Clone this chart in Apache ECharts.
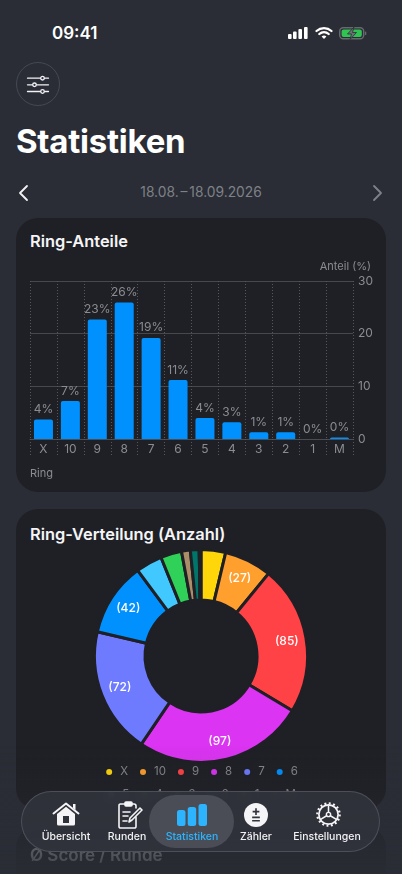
<!DOCTYPE html>
<html>
<head>
<meta charset="utf-8">
<title>Statistiken</title>
<script src="https://cdn.jsdelivr.net/npm/echarts@6/dist/echarts.min.js"></script>
<style>
html,body{margin:0;padding:0;background:#2a2d35;}
body{width:402px;height:874px;overflow:hidden;position:relative;font-family:Inter,"Noto Sans",sans-serif;color:#fff;}
.abs{position:absolute;}
.card{position:absolute;left:16px;width:370px;background:#1f2025;border-radius:22px;}
.cardtitle{position:absolute;left:14px;font-size:16.4px;font-weight:600;color:#f5f5f7;line-height:22px;}
#fade{position:absolute;left:0;top:745px;width:402px;height:129px;background:linear-gradient(to bottom,rgba(42,45,53,0),rgba(42,45,53,.12) 35%,rgba(42,45,53,.78) 81%,rgba(42,45,53,.9));}
#tabbar{position:absolute;left:21px;top:791px;width:359px;height:61px;border-radius:31px;background:rgba(48,51,59,.93);border:1px solid rgba(120,125,135,.4);box-sizing:border-box;backdrop-filter:blur(5px);-webkit-backdrop-filter:blur(5px);}
#pill{position:absolute;left:127px;top:3px;width:85px;height:53px;border-radius:27px;background:#4a4d55;}
.tab{position:absolute;top:38px;font-size:10.5px;font-weight:500;line-height:14px;color:#f2f2f5;transform:translateX(-50%);white-space:nowrap;}
.tabicon{position:absolute;}
</style>
</head>
<body>
<div class="abs" style="left:52px;top:22px;font-size:17px;font-weight:600;line-height:22px;">09:41</div>
<svg class="abs" style="left:286px;top:24px" width="82" height="18" viewBox="0 0 82 18">
  <rect x="2" y="10" width="3.6" height="5" rx="1" fill="#fff"/><rect x="7" y="7.5" width="3.6" height="7.5" rx="1" fill="#fff"/><rect x="12.4" y="5" width="3.6" height="10" rx="1" fill="#fff"/><rect x="18" y="3" width="3.6" height="12" rx="1" fill="#fff"/>
  <path d="M30.5 7a11.5 11.5 0 0 1 15 0M33.3 10a7.2 7.2 0 0 1 9.4 0" fill="none" stroke="#fff" stroke-width="2.3" stroke-linecap="round"/><path d="M35.6 12.6a3.4 3.4 0 0 1 4.8 0L38 15z" fill="#fff"/>
  <rect x="53.7" y="3.7" width="24" height="11" rx="3.5" fill="none" stroke="#66696d" stroke-width="1.4"/><rect x="55.6" y="5.5" width="20.2" height="7.4" rx="2" fill="#30c552"/><rect x="79" y="7.5" width="1.3" height="3.5" rx=".6" fill="#66696d"/>
  <path d="M68 3l-6.5 7h4L64 15.500l6.500-7h-4z" fill="#6d7074" stroke="#2a2d35" stroke-width=".8"/>
</svg>

<div class="abs" style="left:16px;top:62px;width:44px;height:44px;border-radius:50%;border:1px solid #444954;box-sizing:border-box;"></div>
<svg class="abs" style="left:26px;top:73.500px" width="24" height="22" viewBox="0 0 24 22" fill="none" stroke="#f2f2f5" stroke-width="1.3" stroke-linecap="round">
  <path d="M1.500 4.200h13M18.500 4.200h4M1.500 10.800h5M10.500 10.800h12M1.500 17.500h13M18.500 17.500h4"/><circle cx="16.500" cy="4.200" r="1.800"/><circle cx="8.500" cy="10.800" r="1.800"/><circle cx="16.500" cy="17.500" r="1.800"/>
</svg>
<div class="abs" style="left:16px;top:120px;font-size:33px;font-weight:700;line-height:42px;letter-spacing:-.25px;">Statistiken</div>

<svg class="abs" style="left:16px;top:183px" width="16" height="20" viewBox="0 0 16 20" fill="none" stroke="#f2f2f5" stroke-width="1.8" stroke-linecap="round" stroke-linejoin="round"><path d="M11 3l-7 7 7 7"/></svg>
<div class="abs" style="left:0;top:183px;width:402px;text-align:center;font-size:13.8px;line-height:19px;word-spacing:-2px;color:#7e8188;">18.08. – 18.09.2026</div>
<svg class="abs" style="left:370px;top:183px" width="16" height="20" viewBox="0 0 16 20" fill="none" stroke="#7e8188" stroke-width="1.8" stroke-linecap="round" stroke-linejoin="round"><path d="M4 3l7 7-7 7"/></svg>

<div class="card" style="top:218px;height:274px;">
  <div class="cardtitle" style="top:12px;">Ring-Anteile</div>
  <div id="barChart" class="abs" style="left:0;top:0;width:370px;height:274px;"></div>
</div>
<div class="card" style="top:509px;height:301px;">
  <div class="cardtitle" style="top:14px;">Ring-Verteilung (Anzahl)</div>
  <div id="pieChart" class="abs" style="left:0;top:0;width:370px;height:301px;"></div>
</div>
<div class="card" style="top:826px;height:120px;">
  <div class="cardtitle" style="top:18px;font-size:17px;">Ø Score / Runde</div>
</div>
<div id="fade"></div>

<div id="tabbar">
  <div id="pill"></div>
  <svg class="tabicon" style="left:30px;top:10px" width="28" height="24" viewBox="0 0 28 24"><path d="M1.500 11.500L14 1.500l12.500 10" fill="none" stroke="#f5f5f7" stroke-width="2" stroke-linecap="round" stroke-linejoin="round"/><path d="M21 2h2.500v6L21 6z" fill="#f5f5f7"/><path d="M5 12L14 4.800l9 7.200v10a1.500 1.500 0 0 1-1.500 1.500h-15A1.500 1.500 0 0 1 5 22z" fill="#f5f5f7"/><rect x="11" y="14" width="6" height="7" fill="#30333b"/></svg>
  <svg class="tabicon" style="left:95px;top:8px" width="26" height="30" viewBox="0 0 26 30" fill="none" stroke="#f5f5f7" stroke-width="1.6" stroke-linecap="round" stroke-linejoin="round"><path d="M8 4H3.500A1.500 1.500 0 0 0 2 5.500v21A1.500 1.500 0 0 0 3.500 28h14a1.500 1.500 0 0 0 1.500-1.500V17M15 4h2a2 2 0 0 1 2 2v2"/><rect x="8" y="2" width="7" height="4" rx="1" fill="#f5f5f7"/><path d="M6 12h7M6 16h5M6 21h4M12 22l1-4 10-10 2 2-10 10z"/></svg>
  <svg class="tabicon" style="left:155px;top:12px" width="30" height="22" viewBox="0 0 30 22"><rect x="0" y="6" width="8.500" height="16" rx="2.500" fill="#2db4ff"/><rect x="10.700" y="3" width="8.500" height="19" rx="2.500" fill="#2db4ff"/><rect x="21.500" y="0" width="8.500" height="22" rx="2.500" fill="#2db4ff"/></svg>
  <svg class="tabicon" style="left:222px;top:11px" width="24" height="24" viewBox="0 0 25 25"><circle cx="12.500" cy="12.500" r="12.500" fill="#f5f5f7"/><path d="M12.500 5.500v7M9 9h7M8.500 15h8M8.500 18.500h8" stroke="#30343c" stroke-width="1.700" fill="none"/></svg>
  <svg class="tabicon" style="left:294px;top:10px" width="25" height="25" viewBox="0 0 26 26" fill="none" stroke="#f5f5f7"><circle cx="13" cy="13" r="10" stroke-width="1.800"/><circle cx="13" cy="13" r="11.600" stroke-width="2.400" stroke-dasharray="2 2.550"/><circle cx="13" cy="13" r="2.200" stroke-width="1.500"/><path d="M13 3.500v7.200M4.800 18l6.300-3.700M21.200 18l-6.300-3.700" stroke-width="1.600"/></svg>
  <div class="tab" style="left:44px;">Übersicht</div>
  <div class="tab" style="left:105px;">Runden</div>
  <div class="tab" style="left:170px;color:#2db4ff;">Statistiken</div>
  <div class="tab" style="left:234px;">Zähler</div>
  <div class="tab" style="left:305px;">Einstellungen</div>
</div>

<script>
var rings = ['X','10','9','8','7','6','5','4','3','2','1','M'];
var shares = [3.7,7.2,22.7,25.9,19.2,11.2,4.0,3.2,1.3,1.3,0,0.3];
var counts = [14,27,85,97,72,42,15,12,5,5,0,1];
var ringColors = ['#FFD60A','#FF9F2E','#FF4245','#DB34F2','#6E7BFF','#0091FF','#40C8FF','#30D158','#AC8E68','#00756A','#8E8E93','#636366'];
var shareTicks = [0,10,20,30];

var FONT = 'Inter';
var GREY = '#8b8c91';

var barChart = echarts.init(document.getElementById('barChart'));
barChart.setOption({
	animation: false,
	grid: {left:14, right:33, top:63, bottom:53},
	xAxis: {
		type: 'category',
		data: rings,
		name: 'Ring',
		nameLocation: 'start',
		nameGap: 0,
		nameTextStyle: {color:GREY, fontFamily:FONT, fontSize:11, align:'left', verticalAlign:'top', padding:[29,0,0,0]},
		axisLine: {lineStyle:{color:'#4a4c52', width:1}},
		axisTick: {show:true, length:16, lineStyle:{color:'#55575d', type:[1,2]}},
		axisLabel: {color:GREY, fontFamily:FONT, fontSize:12, margin:4},
		splitLine: {show:true, lineStyle:{color:'#55575d', type:[1,2]}}
	},
	yAxis: {
		type: 'value',
		position: 'right',
		min: shareTicks[0],
		max: shareTicks[3],
		interval: 10,
		name: 'Anteil (%)',
		nameLocation: 'end',
		nameGap: 9,
		nameTextStyle: {color:GREY, fontFamily:FONT, fontSize:11, align:'right', padding:[0,-18,0,0]},
		axisLine: {show:false},
		axisTick: {show:false},
		axisLabel: {color:GREY, fontFamily:FONT, fontSize:12, margin:5},
		splitLine: {lineStyle:{color:'#46484e', width:1}}
	},
	series: [{
		type: 'bar',
		data: shares,
		barWidth: 19,
		itemStyle: {color:'#0091FF', borderRadius:[2,2,0,0]},
		label: {
			show: true,
			position: 'top',
			distance: 4,
			color: GREY,
			fontFamily: FONT,
			fontSize: 12,
			formatter: function(p){return Math.round(p.value)+'%';}
		}
	}]
});

var pieCx = 185, pieCy = 147, pieR0 = 56, pieR = 106.5;
var labelR = 84;
var pieData = [];
for (var i=0;i<rings.length;++i) {
	pieData.push({name:rings[i], value:counts[i], itemStyle:{color:ringColors[i]}});
}

// Legende in zwei festen Zeilen
function legendRow(names, top) {
	return {
		show: true,
		top: top,
		left: 'center',
		icon: 'circle',
		itemWidth: 8,
		itemHeight: 8,
		itemGap: 10,
		data: names,
		textStyle: {color:'#85868b', fontFamily:FONT, fontSize:11.5, padding:[0,5,0,2]}
	};
}

var pieChart = echarts.init(document.getElementById('pieChart'));
pieChart.setOption({
	animation: false,
	legend: [legendRow(rings.slice(0,6),252), legendRow(rings.slice(6),275)],
	series: [{
		type: 'pie',
		center: [pieCx, pieCy],
		radius: [pieR0, pieR],
		startAngle: 90,
		avoidLabelOverlap: false,
		itemStyle: {borderColor:'#1f2025', borderWidth:3},
		label: {
			show: true,
			position: 'inside',
			color: '#fff',
			fontFamily: FONT,
			fontSize: 12,
			fontWeight: 500,
			formatter: function(p){return p.value>=20 ? '('+p.value+')' : '';}
		},
		labelLine: {show:false},
		// Beschriftung etwas weiter aussen als Ringmitte
		labelLayout: function(p){
			var lx = p.labelRect.x+p.labelRect.width/2-pieCx;
			var ly = p.labelRect.y+p.labelRect.height/2-pieCy;
			var k = labelR/((pieR0+pieR)/2)-1;
			return {dx:lx*k, dy:ly*k};
		},
		data: pieData
	}]
});
</script>
</body>
</html>
